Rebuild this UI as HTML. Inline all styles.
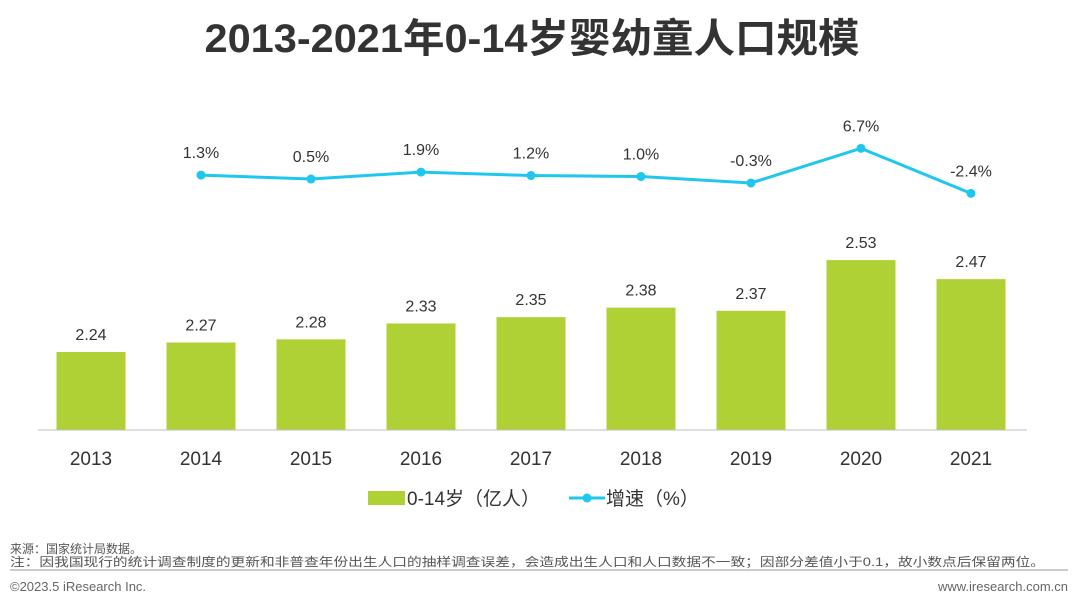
<!DOCTYPE html>
<html><head><meta charset="utf-8"><style>
body{margin:0;width:1080px;height:608px;background:#fff;overflow:hidden;font-family:"Liberation Sans","Noto Sans CJK SC",sans-serif}
</style></head><body>
<svg id="chart" width="1080" height="608" xmlns="http://www.w3.org/2000/svg" font-family="Liberation Sans, Noto Sans CJK SC, sans-serif">
<text x="532" y="52" text-anchor="middle" font-size="40" font-weight="bold" fill="#333" textLength="655" lengthAdjust="spacingAndGlyphs">2013-2021年0-14岁婴幼童人口规模</text>
<g id="bars"></g><g id="line"></g>
<line x1="38" y1="430" x2="1027" y2="430" stroke="#bfbfbf" stroke-width="1"/>
<g id="xlabels"></g>
<g>
<rect x="368" y="491" width="37" height="14" fill="#b0d136"/>
<text x="407" y="505" font-size="19" fill="#333">0-14岁（亿人）</text>
<line x1="569" y1="498" x2="605" y2="498" stroke="#1fc7ee" stroke-width="3"/>
<circle cx="587" cy="498" r="4.5" fill="#1fc7ee"/>
<text x="606" y="505" font-size="19" fill="#333">增速（%）</text>
</g>
<text x="10" y="553" font-size="12" fill="#555">来源：国家统计局数据。</text>
<text x="10" y="566" font-size="12" fill="#555" textLength="1035" lengthAdjust="spacingAndGlyphs">注：因我国现行的统计调查制度的更新和非普查年份出生人口的抽样调查误差，会造成出生人口和人口数据不一致；因部分差值小于0.1，故小数点后保留两位。</text>
<line x1="10" y1="570" x2="1068" y2="570" stroke="#999" stroke-width="1"/>
<text x="10" y="591" font-size="13" fill="#666">©2023.5 iResearch Inc.</text>
<text x="1068" y="591" font-size="13" fill="#666" text-anchor="end">www.iresearch.com.cn</text>
</svg>
<script>
const years=["2013","2014","2015","2016","2017","2018","2019","2020","2021"];
const population=[2.24,2.27,2.28,2.33,2.35,2.38,2.37,2.53,2.47];
const growthYears=["2014","2015","2016","2017","2018","2019","2020","2021"];
const growth=[1.3,0.5,1.9,1.2,1.0,-0.3,6.7,-2.4];
const NS="http://www.w3.org/2000/svg";
const xC=i=>91+i*110;
const yB=v=>430-(v-1.994)*317;
const yL=v=>181.5-v*4.95;
function mk(t,a,p){const e=document.createElementNS(NS,t);for(const k in a)e.setAttribute(k,a[k]);p.appendChild(e);return e;}
const gb=document.getElementById('bars'),gl=document.getElementById('line'),gx=document.getElementById('xlabels');
years.forEach((y,i)=>{
 const v=population[i];
 const r=mk('rect',{x:xC(i)-34.5,y:yB(v),width:69,height:430-yB(v),fill:'#b0d136'},gb);
 
 
 const t=mk('text',{x:xC(i),y:yB(v)-12,'text-anchor':'middle','font-size':16,fill:'#333'},gb);t.textContent=v.toFixed(2);
 
 
 const xl=mk('text',{x:xC(i),y:465,'text-anchor':'middle','font-size':19,fill:'#333'},gx);xl.textContent=y;
 
 
});
const pts=growth.map((g,i)=>[xC(years.indexOf(growthYears[i])),yL(g)]);
const pl=mk('polyline',{points:pts.map(p=>p.join(',')).join(' '),fill:'none',stroke:'#1fc7ee','stroke-width':3},gl);


pts.forEach((p,i)=>{
 const c=mk('circle',{cx:p[0],cy:p[1],r:4.5,fill:'#1fc7ee'},gl);
 
 
 const t=mk('text',{x:p[0],y:p[1]-17,'text-anchor':'middle','font-size':16,fill:'#333'},gl);t.textContent=growth[i].toFixed(1)+'%';
 
 
});
</script>
</body></html>
